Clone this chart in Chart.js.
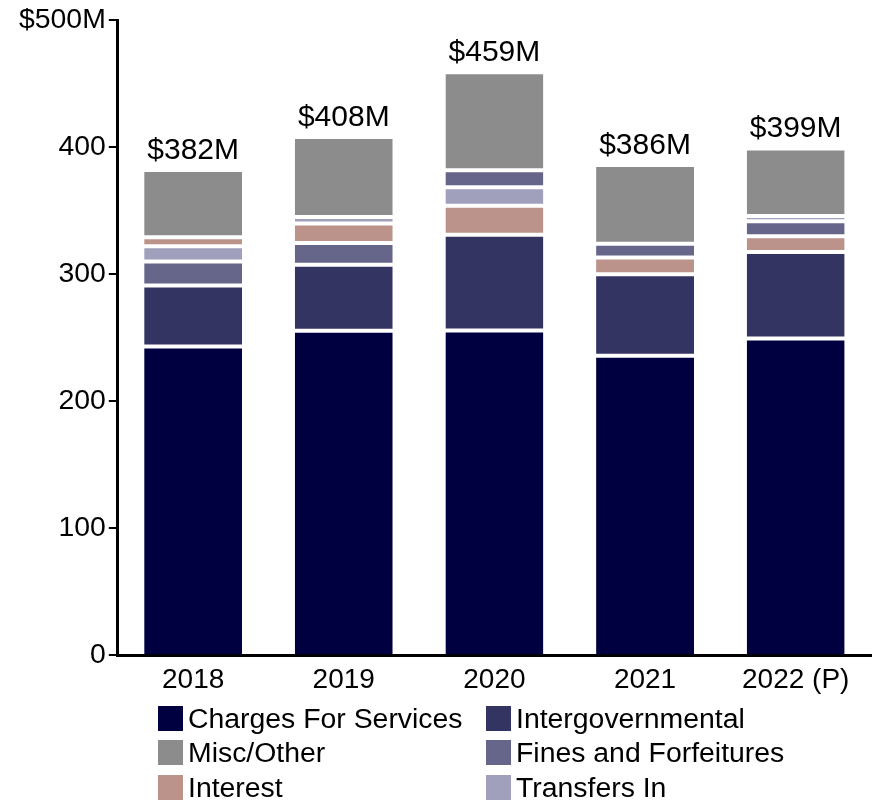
<!DOCTYPE html>
<html>
<head>
<meta charset="utf-8">
<script src="https://cdn.jsdelivr.net/npm/chart.js@4/dist/chart.umd.min.js"></script>
<style>
    body { margin: 0; background: #fff; font-family: 'Liberation Sans', Arial, sans-serif; }
    #wrap { position: relative; width: 876px; height: 803px; }
    #myChart { position: absolute; left: 0; top: 0; }
    #legend { position: absolute; left: 158px; top: 701px; display: grid; grid-template-columns: 328px 360px; }
    .item { display: flex; align-items: center; height: 34.5px; font-size: 28.4px; color: #000; white-space: nowrap; }
    .box { width: 25px; height: 25px; margin-right: 5px; flex: none; }
</style>
</head>
<body>
<div id="wrap">
    <canvas id="myChart" width="876" height="705"></canvas>
    <div id="legend"></div>
</div>
<script>
const years = ['2018', '2019', '2020', '2021', '2022 (P)']

// revenue by source, $M
const charges = [243, 255.4, 255.6, 235.8, 249.4]
const intergov = [48, 52.1, 75.5, 64.2, 68.1]
const misc = [53, 63.0, 77.3, 62, 53.3]
const fines = [19, 17.1, 13.3, 10.8, 11.9]
const interest = [7, 15.2, 22.8, 13.2, 12.3]
const transfers = [12, 5.2, 14.5, 0, 4]

const sources = ['Charges For Services', 'Intergovernmental', 'Misc/Other', 'Fines and Forfeitures', 'Interest', 'Transfers In']
const colors = ['#000040', '#343463', '#8c8c8c', '#66668a', '#bb938b', '#a0a0bd']
const series = [charges, intergov, misc, fines, interest, transfers]

const yTicks = [0, 100, 200, 300, 400, 500]

const font = "'Liberation Sans', Arial, sans-serif"

// Each bar stacks its sources largest first, Misc/Other always on top,
// so build one dataset per stack slot with per-bar colours.
const MISC = 2
const order = years.map(function (y, j) {
    const idx = [0, 1, 3, 4, 5]
    idx.sort(function (a, b) { return series[b][j] - series[a][j] })
    idx.push(MISC)
    return idx
})

const datasets = []
for (let slot = 0; slot < 6; slot++) {
    datasets.push({
        label: 'slot' + slot,
        data: years.map(function (y, j) { return series[order[j][slot]][j] }),
        backgroundColor: years.map(function (y, j) { return colors[order[j][slot]] }),
        sourceIdx: years.map(function (y, j) { return order[j][slot] }),
        borderColor: '#ffffff',
        borderWidth: { top: 2, bottom: slot === 0 ? 0 : 2, left: 0, right: 0 },
        borderSkipped: false,
        barPercentage: 0.65,
        categoryPercentage: 1
    })
}

const totals = years.map(function (y, j) {
    return series.reduce(function (s, arr) { return s + arr[j] }, 0)
})

// Totals written above each bar
const totalLabels = {
    id: 'totalLabels',
    afterDatasetsDraw(chart) {
        const ctx = chart.ctx
        ctx.save()
        ctx.font = '30px ' + font
        ctx.fillStyle = '#000'
        ctx.textAlign = 'center'
        ctx.textBaseline = 'alphabetic'
        totals.forEach(function (t, i) {
            const x = chart.scales.x.getPixelForValue(i)
            const y = chart.scales.y.getPixelForValue(t)
            ctx.fillText('$' + Math.round(t) + 'M', x, y - 11)
        })
        ctx.restore()
    }
}

const chart = new Chart(document.getElementById('myChart'), {
    type: 'bar',
    data: { labels: years, datasets: datasets },
    options: {
        responsive: false,
        animation: false,
        layout: { padding: { left: 16, right: 5, top: 2, bottom: 0 } },
        plugins: {
            legend: { display: false },
            tooltip: {
                callbacks: {
                    label: function (item) {
                        return sources[item.dataset.sourceIdx[item.dataIndex]] + ': $' + item.raw + 'M'
                    }
                }
            }
        },
        scales: {
            x: {
                stacked: true,
                grid: { display: false, drawTicks: false },
                border: { display: true, color: '#000', width: 3 },
                ticks: { color: '#000', font: { family: font, size: 28 }, padding: 8 }
            },
            y: {
                stacked: true,
                min: 0,
                max: 500,
                afterBuildTicks: function (axis) {
                    axis.ticks = yTicks.map(function (v) { return { value: v } })
                },
                grid: { drawOnChartArea: false, drawTicks: true, tickLength: 9, color: '#000', lineWidth: 2 },
                border: { display: true, color: '#000', width: 3 },
                ticks: {
                    color: '#000',
                    font: { family: font, size: 28.4 },
                    padding: 3,
                    callback: function (v) { return v === 500 ? '$500M' : v }
                }
            }
        }
    },
    plugins: [totalLabels]
})

// Two-column legend
const legend = document.getElementById('legend')
sources.forEach(function (name, i) {
    const item = document.createElement('div')
    item.className = 'item'
    const box = document.createElement('span')
    box.className = 'box'
    box.style.background = colors[i]
    item.appendChild(box)
    item.appendChild(document.createTextNode(name))
    legend.appendChild(item)
})
</script>
</body>
</html>
